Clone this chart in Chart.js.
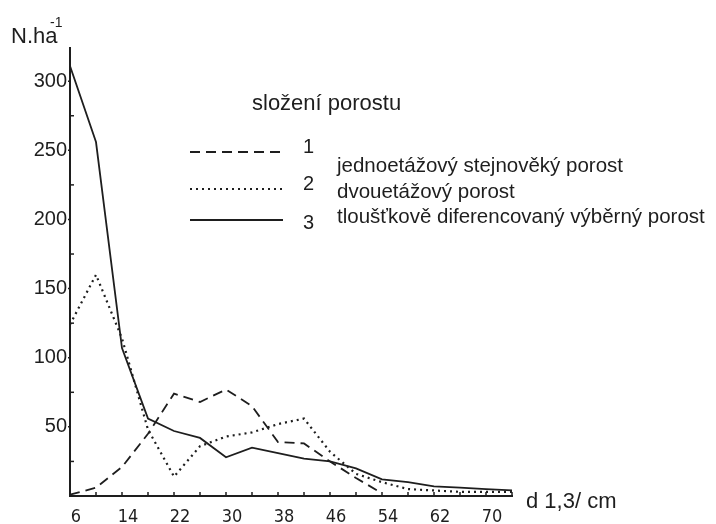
<!DOCTYPE html>
<html><head><meta charset="utf-8">
<script src="https://cdn.jsdelivr.net/npm/chart.js@4"></script>
<style>html,body{margin:0;padding:0;background:#fff}#w{width:716px;height:524px;position:relative}</style>
</head><body><div id="w"><canvas id="c" width="716" height="524"></canvas></div>
<script>
const diameters = [6,10,14,18,22,26,30,34,38,42,46,50,54,58,62,66,70,74];
const xTickLabels = [6,14,22,30,38,46,54,62,70];
const yTickLabels = [50,100,150,200,250,300];
const seriesNames = ["jednoetážový stejnověký porost","dvouetážový porost","tloušťkově diferencovaný výběrný porost"];
const seriesNumbers = ["1","2","3"];
const jednoetazovy = [1,6,21,45,74,68,77,65,39,38,25,13,2,null,null,null,null,null];
const dvouetazovy = [124,160,114,48,14,36,43,46,52,56,32,16,10,5,4,3,3,3];
const vyberny = [311,256,107,56,47,42,28,35,31,27,25,20,12,10,7,6,5,4];
const legendTitle = "složení porostu";
const yTitle = "N.ha";
const ySup = "-1";
const xTitle = "d 1,3/ cm";

const INK = '#1e1e1e';
const styles = [
  {borderDash:[10,6], borderWidth:1.8},
  {borderDash:[2,4], borderWidth:2.2},
  {borderDash:[], borderWidth:1.8}
];
const dataSets = [jednoetazovy, dvouetazovy, vyberny].map((d,i)=>({
  label: seriesNames[i], data: d, borderColor: INK, backgroundColor: INK,
  borderWidth: styles[i].borderWidth, borderDash: styles[i].borderDash,
  pointRadius: 0, tension: 0, fill: false, spanGaps: false
}));

const decor = {
  id:'decor',
  afterDraw(chart){
    const ctx = chart.ctx, xs = chart.scales.x, ys = chart.scales.y;
    ctx.save();
    ctx.strokeStyle = INK; ctx.lineWidth = 1.5;
    diameters.forEach((d,i)=>{ if(i===0) return; const px = xs.getPixelForValue(i);
      ctx.beginPath(); ctx.moveTo(px, ys.bottom); ctx.lineTo(px, ys.bottom-4); ctx.stroke(); });
    for(let v=25; v<=300; v+=25){ const py = ys.getPixelForValue(v);
      ctx.beginPath();
      if(v%50===0){ ctx.moveTo(xs.left-2, py); ctx.lineTo(xs.left, py); }
      else { ctx.moveTo(xs.left, py); ctx.lineTo(xs.left+4, py); }
      ctx.stroke(); }
    ctx.fillStyle = INK;
    ctx.font = '22px "Liberation Sans", Arial, sans-serif';
    ctx.textBaseline = 'alphabetic'; ctx.textAlign = 'left';
    ctx.fillText(yTitle, 11, 43);
    ctx.font = '14px "Liberation Sans", Arial, sans-serif';
    ctx.fillText(ySup, 50, 27);
    ctx.font = '22px "Liberation Sans", Arial, sans-serif';
    ctx.fillText(xTitle, 526, 508);
    ctx.fillText(legendTitle, 252, 110);
    const lineY = [152, 189, 220];
    const numY = [153, 190, 229];
    const textY = [172, 198, 223];
    chart.data.datasets.forEach((ds,i)=>{
      ctx.save();
      ctx.strokeStyle = ds.borderColor; ctx.lineWidth = ds.borderWidth;
      ctx.setLineDash(ds.borderDash || []);
      ctx.beginPath(); ctx.moveTo(190, lineY[i]); ctx.lineTo(283, lineY[i]); ctx.stroke();
      ctx.restore();
      ctx.font = '20px "Liberation Sans", Arial, sans-serif';
      ctx.fillText(seriesNumbers[i], 303, numY[i]);
      ctx.font = '20.5px "Liberation Sans", Arial, sans-serif';
      ctx.fillText(ds.label, 337, textY[i]);
    });
    ctx.restore();
  }
};

new Chart(document.getElementById('c'), {
  type:'line',
  data:{ labels: diameters.map(String), datasets: dataSets },
  options:{
    responsive:false, animation:false, devicePixelRatio:1,
    layout:{ padding:{ top:48, right:204, left:0, bottom:0 } },
    plugins:{ legend:{display:false}, tooltip:{enabled:false}, title:{display:false} },
    scales:{
      x:{
        type:'category', offset:false,
        grid:{ drawOnChartArea:false, drawTicks:false },
        border:{ display:true, color:INK, width:2 },
        afterFit(s){ s.height = 28; },
        ticks:{ autoSkip:false, maxRotation:0, padding:11, labelOffset:6, color:INK,
          font:{ family:'"Liberation Sans Narrow", "DejaVu Sans Condensed", "Liberation Sans"', size:18 },
          callback(val){ const l = this.getLabelForValue(val); return xTickLabels.includes(Number(l)) ? l : ''; } }
      },
      y:{
        min:0, max:324,
        grid:{ drawOnChartArea:false, drawTicks:false },
        border:{ display:true, color:INK, width:2 },
        afterFit(s){ s.width = 70; },
        ticks:{ stepSize:25, padding:3, color:INK,
          font:{ family:'"Liberation Sans", Arial', size:20 },
          callback(v){ return yTickLabels.includes(v) ? String(v) : ''; } }
      }
    }
  },
  plugins:[decor]
});
</script></body></html>
